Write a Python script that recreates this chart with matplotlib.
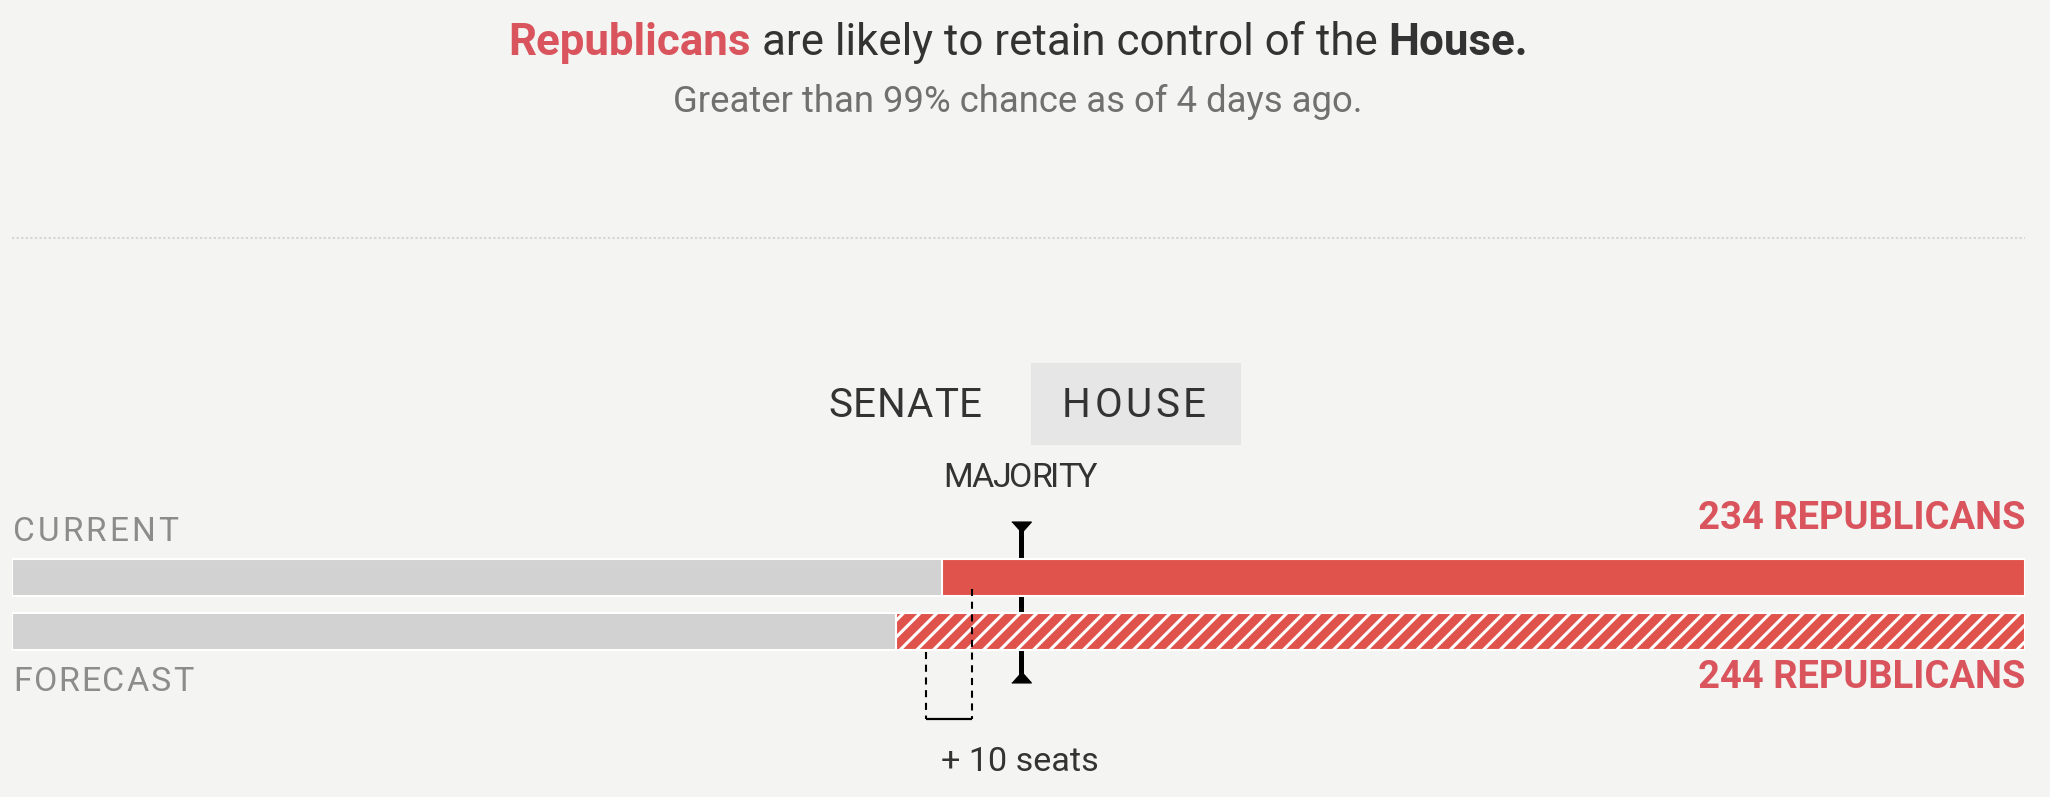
import numpy as np
import matplotlib
matplotlib.use("Agg")
import matplotlib.pyplot as plt
from matplotlib.patches import Rectangle

# data
TOTAL_SEATS = 435
MAJORITY = 218
rows = ["CURRENT", "FORECAST"]
rep_seats = [234, 244]
other_seats = [TOTAL_SEATS - r for r in rep_seats]
tabs = ["SENATE", "HOUSE"]
active_tab = "HOUSE"
bracket_left = 197.5
gain = rep_seats[1] - rep_seats[0]
chance_text = "Greater than 99% chance as of 4 days ago."

# style
BG = "#f4f5f2"
RED = "#e0534c"
RED_TEXT = "#d9545c"
GRAY_BAR = "#d2d2d2"
DARK = "#333333"
SUB = "#707070"
LABEL = "#8c8c8c"
TAB_BG = "#e6e6e6"
FONT = ["Roboto", "DejaVu Sans"]
CAP = 0.72  # cap height / em

W, H = 2050, 797
fig = plt.figure(figsize=(W / 100, H / 100), dpi=100, facecolor=BG)
renderer = fig.canvas.get_renderer()


def cap_size(cap_px):
    return cap_px / CAP * 0.72


def measure(s, size, weight="normal"):
    t = fig.text(0, 0, s, fontsize=size, fontweight=weight, family=FONT)
    w = t.get_window_extent(renderer).width
    t.remove()
    return w


def fit_size(s, target_w, weight="normal", base=20):
    return base * target_w / measure(s, base, weight)


def put(x, y, s, **kw):
    return fig.text(x / W, 1 - y / H, s, family=FONT, va="baseline", **kw)


def draw_runs(runs, cx, base_y, target_w):
    # several styled pieces on one line, centred
    def widths(size):
        sp = measure("a a", size) - measure("aa", size)
        return sp, [measure(t, size, w) for t, c, w in runs]
    sp, ws = widths(20)
    size = 20 * target_w / (sum(ws) + sp * (len(runs) - 1))
    sp, ws = widths(size)
    x = cx - (sum(ws) + sp * (len(runs) - 1)) / 2
    for (t, c, w), wd in zip(runs, ws):
        put(x, base_y, t, fontsize=size, fontweight=w, color=c, ha="left")
        x += wd + sp


def draw_tracked(s, x0, base_y, cap_px, target_w, color, ha="left"):
    # letter-spaced label
    size = cap_size(cap_px)
    ws = [measure(ch, size) for ch in s]
    gap = (target_w - sum(ws)) / (len(s) - 1)
    x = x0 - target_w / 2 if ha == "center" else x0
    for ch, wd in zip(s, ws):
        put(x, base_y, ch, fontsize=size, color=color, ha="left")
        x += wd + gap


# headline
draw_runs([("Republicans", RED_TEXT, "bold"),
           ("are likely to retain control of the", DARK, "normal"),
           ("House.", DARK, "bold")], 1018, 55, 1017)
put(1018, 112, chance_text, fontsize=fit_size(chance_text, 690),
    color=SUB, ha="center")

# bar axes: x in seats
ax = fig.add_axes([12 / W, 0, 2013 / W, 1])
ax.set_xlim(0, TOTAL_SEATS)
ax.set_ylim(H, 0)
ax.axis("off")
ax.patch.set_alpha(0)

ax.hlines(237.5, 0, TOTAL_SEATS, color="#d6d6d6", lw=1.5,
          linestyle=(0, (1.1, 1.1)))

# tabs
fig.add_artist(Rectangle((1031 / W, 1 - 445 / H), 210 / W, 82 / H,
                         transform=fig.transFigure, color=TAB_BG, lw=0))
tab_pos = {"SENATE": (905, 154), "HOUSE": (1134, 144)}
for tb in tabs:
    cx, tw = tab_pos[tb]
    draw_tracked(tb, cx, 417, 29, tw, DARK, ha="center")

draw_tracked("MAJORITY", 1020, 487, 24.5, 154, DARK, ha="center")

# bars
row_y = [577, 631]
bar_h = 37
plt.rcParams["hatch.linewidth"] = 2.2
for i, name in enumerate(rows):
    ax.barh(row_y[i], other_seats[i], left=0, height=bar_h, color=GRAY_BAR,
            edgecolor="white", lw=1.5, zorder=2)
    ax.barh(row_y[i], rep_seats[i], left=other_seats[i], height=bar_h,
            color=RED, edgecolor="white", lw=1.5, zorder=2,
            hatch="//" if name == "FORECAST" else None)

# majority marker
ax.vlines(MAJORITY, 524, 680, color="black", lw=3.6, zorder=1)
top_cap = [(-1, 0.45), (1, 0.45), (0.2, -0.45), (-0.2, -0.45)]
bot_cap = [(x, -y) for x, y in top_cap]
ax.plot(MAJORITY, 526, marker=top_cap, ms=14, color="black", zorder=1)
ax.plot(MAJORITY, 678, marker=bot_cap, ms=14, color="black", zorder=1)

# +10 seats bracket
br = bracket_left + gain
ax.vlines(br, 589, 719, color="black", lw=1.5, linestyle=(0, (3.4, 2.7)), zorder=3)
ax.vlines(bracket_left, 652, 719, color="black", lw=1.5,
          linestyle=(0, (3.4, 2.7)), zorder=3)
ax.hlines(719, bracket_left, br, color="black", lw=1.6, zorder=3)
gain_txt = f"+ {gain} seats"
put(1020, 771, gain_txt, fontsize=fit_size(gain_txt, 157), color=DARK, ha="center")

# row labels
draw_tracked(rows[0], 13, 541, 24, 165, LABEL)
draw_tracked(rows[1], 13, 691, 24.5, 180, LABEL)
for i, by in enumerate([529, 688]):
    s = f"{rep_seats[i]} REPUBLICANS"
    put(2025, by, s, fontsize=fit_size(s, 327, "bold"), fontweight="bold",
        color=RED_TEXT, ha="right")

fig.savefig("out.png", dpi=100, facecolor=BG)
